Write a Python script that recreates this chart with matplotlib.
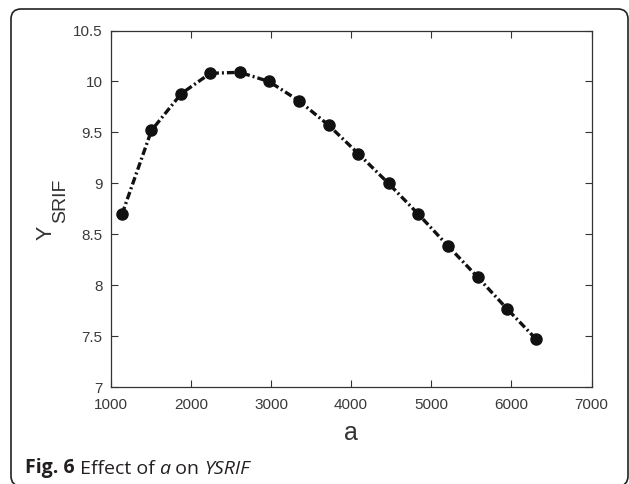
import matplotlib
matplotlib.use("Agg")
import matplotlib.pyplot as plt
from matplotlib.patches import FancyBboxPatch

# values
a_vals = [1142, 1509, 1880, 2242, 2609, 2975, 3350, 3721, 4092, 4467, 4837, 5205, 5580, 5946, 6312]
ysrif = [8.70, 9.52, 9.88, 10.08, 10.09, 10.00, 9.81, 9.57, 9.29, 9.00, 8.70, 8.39, 8.08, 7.77, 7.47]

x_ticks = [1000, 2000, 3000, 4000, 5000, 6000, 7000]
y_ticks = [7, 7.5, 8, 8.5, 9, 9.5, 10, 10.5]
y_ticklabels = ["7", "7.5", "8", "8.5", "9", "9.5", "10", "10.5"]

plt.rcParams["font.family"] = ["Liberation Sans", "DejaVu Sans"]

W, H = 629, 484
fig = plt.figure(figsize=(W / 100, H / 100), dpi=100)

# rounded frame round the figure, in inches so the corners stay round
frame = FancyBboxPatch((0.11, -0.02), 6.17, 4.77,
                       boxstyle="round,pad=0,rounding_size=0.1",
                       transform=fig.dpi_scale_trans, fill=False,
                       edgecolor="#222222", linewidth=1.2)
fig.patches.append(frame)

ax = fig.add_axes([110.7 / W, 1 - 387.3 / H, (591.5 - 110.7) / W, (387.3 - 30.5) / H])

ax.plot(a_vals, ysrif, linestyle="-.", color="#111111", linewidth=2.4,
        marker="o", markersize=8, markerfacecolor="#111111", markeredgecolor="#111111",
        dashes=(2.3, 0.9, 0.6, 0.9))

ax.set_xlim(1000, 7000)
ax.set_ylim(7, 10.5)
ax.set_xticks(x_ticks)
ax.set_yticks(y_ticks)
ax.set_yticklabels(y_ticklabels)
ax.tick_params(direction="in", length=5, width=0.8, top=True, right=True,
               labelsize=11, labelcolor="#3a3a3a", color="#333333")
ax.tick_params(axis="x", pad=7.5)
ax.tick_params(axis="y", pad=5.8)
for s in ax.spines.values():
    s.set_color("#333333")
    s.set_linewidth(0.9)

# axis titles
fig.text(351 / W, 1 - 440 / H, "a", fontsize=18, color="#333333",
         ha="center", va="baseline")
fig.text(46 / W, 1 - 232.5 / H, "Y", fontsize=15.5, color="#333333",
         rotation=90, ha="center", va="center")
fig.text(61 / W, 1 - 200.5 / H, "SRIF", fontsize=14, color="#333333",
         rotation=90, ha="center", va="center")

# caption with mixed styles, chained piece by piece
cap_font = ["Open Sans", "DejaVu Sans"]
t = fig.text(25 / W, 1 - 473 / H, "Fig. 6", fontsize=14, fontweight="bold",
             family=cap_font, color="#231f20", va="baseline")
pieces = [(" Effect of ", "normal"), ("a", "italic"), (" on ", "normal"), ("YSRIF", "italic")]
for txt, style in pieces:
    t = ax.annotate(txt, xy=(1, 0), xycoords=t, va="bottom", ha="left",
                    fontsize=14, style=style, family=cap_font, color="#231f20",
                    annotation_clip=False)

fig.savefig("out.png", dpi=100)
